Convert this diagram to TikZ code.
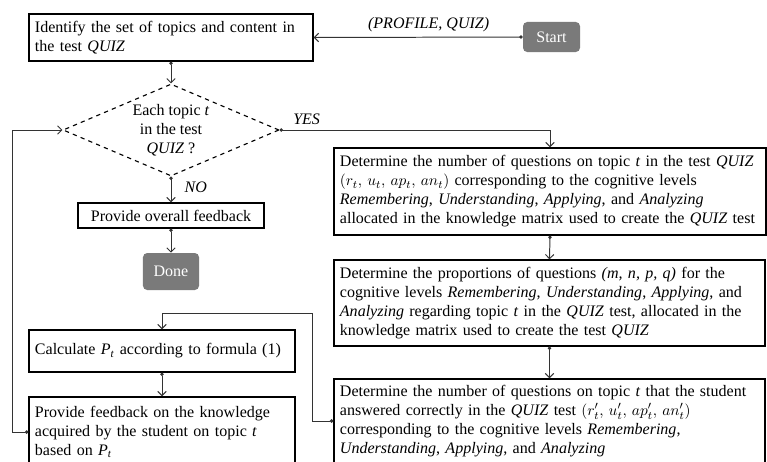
\documentclass[tikz,border=0pt]{standalone}
\usepackage{fontspec}
\setmainfont{Liberation Serif}
\usepackage{amsmath}
\usetikzlibrary{arrows.meta, shapes.geometric}

\begin{document}
\begin{tikzpicture}
            [x=0.025cm, y=-0.025cm, >={Straight Barb[length=3pt]},
             font=\fontsize{11.4}{13.5}\selectfont,
             proc/.style={rectangle, draw, line width=0.9pt, align=left, inner xsep=4pt, inner ysep=2pt},
             term/.style={rectangle, rounded corners=3pt, fill=black!52, text=white, minimum width=1.4cm, minimum height=0.8cm},
             cond/.style={diamond, aspect=2.35, draw, dashed, thick, align=center, inner sep=0pt, minimum width=5.4cm, minimum height=2.3cm},
             conn/.style={{Circle[length=2.4pt]}->, draw=black!80, line width=0.7pt}]
            \useasboundingbox (0,0) rectangle (767,461);
            % left column
            \node[proc, minimum width=7.1cm, minimum height=1.175cm, text width=6.8cm] (ident) at (171,37.5)
                {Identify the set of topics and content in\\ the test \textit{QUIZ}};
            \node[term, minimum width=1.425cm, minimum height=0.75cm] (start) at (551.5,37) {Start};
            \node[cond] (dec) at (171,130) {Each topic \textit{t}\\ in the test\\ \textit{QUIZ} ?};
            \node[proc, align=center, minimum width=4.65cm, minimum height=0.625cm] (overall) at (171,215.5) {Provide overall feedback};
            \node[term, minimum height=0.925cm] (done) at (171,271.5) {Done};
            \node[proc, minimum width=6.65cm, minimum height=1.05cm, text width=6.35cm] (calc) at (162,351)
                {Calculate \textit{P\textsubscript{t}} according to formula (1)};
            \node[proc, minimum width=6.65cm, minimum height=1.75cm, text width=6.35cm] (feed) at (162,432)
                {Provide feedback on the knowledge\\ acquired by the student on topic \textit{t}\\ based on \textit{P\textsubscript{t}}};
            % right column
            \node[proc, minimum width=10.8cm, minimum height=2.175cm, text width=10.5cm] (detA) at (550,191.5)
                {Determine the number of questions on topic \textit{t} in the test \textit{QUIZ}\\
                 $(r_t,\, u_t,\, ap_t,\, an_t)$ corresponding to the cognitive levels\\
                 \textit{Remembering}, \textit{Understanding}, \textit{Applying}, and \textit{Analyzing}\\
                 allocated in the knowledge matrix used to create the \textit{QUIZ} test};
            \node[proc, minimum width=10.775cm, minimum height=2.15cm, text width=10.475cm] (detB) at (549.5,303)
                {Determine the proportions of questions \textit{(m, n, p, q)} for the\\
                 cognitive levels \textit{Remembering}, \textit{Understanding}, \textit{Applying}, and\\
                 \textit{Analyzing} regarding topic \textit{t} in the \textit{QUIZ} test, allocated in the\\
                 knowledge matrix used to create the test \textit{QUIZ}};
            \node[proc, minimum width=10.775cm, minimum height=2.1cm, text width=10.475cm] (detC) at (549.5,421)
                {Determine the number of questions on topic \textit{t} that the student\\
                 answered correctly in the \textit{QUIZ} test $(r'_t,\, u'_t,\, ap'_t,\, an'_t)$\\
                 corresponding to the cognitive levels \textit{Remembering},\\
                 \textit{Understanding}, \textit{Applying}, and \textit{Analyzing}};
            \coordinate (bend) at (312,313);
            \coordinate (back) at (12,130);
            % connectors
            \draw[conn] (start.west) -- node[above, pos=0.45] {\textit{(PROFILE, QUIZ)}} (ident.east);
            \draw[conn] (ident.south) -- (dec.north);
            \draw[conn] (dec.east) -| node[above, pos=0.05] {\textit{YES}} (detA.north);
            \draw[conn] (dec.south) -- node[anchor=west, pos=0.4, xshift=6pt] {\textit{NO}} (overall.north);
            \draw[conn] (overall.south) -- (done.north);
            \draw[conn] (detA.south) -- (detB.north);
            \draw[conn] (detB.south) -- (detC.north);
            \draw[conn] (detC.west) -| (bend) -| (calc.north);
            \draw[conn] (calc.south) -- (feed.north);
            \draw[conn] (feed.west) -| (back) -- (dec.west);
\end{tikzpicture}
\end{document}
